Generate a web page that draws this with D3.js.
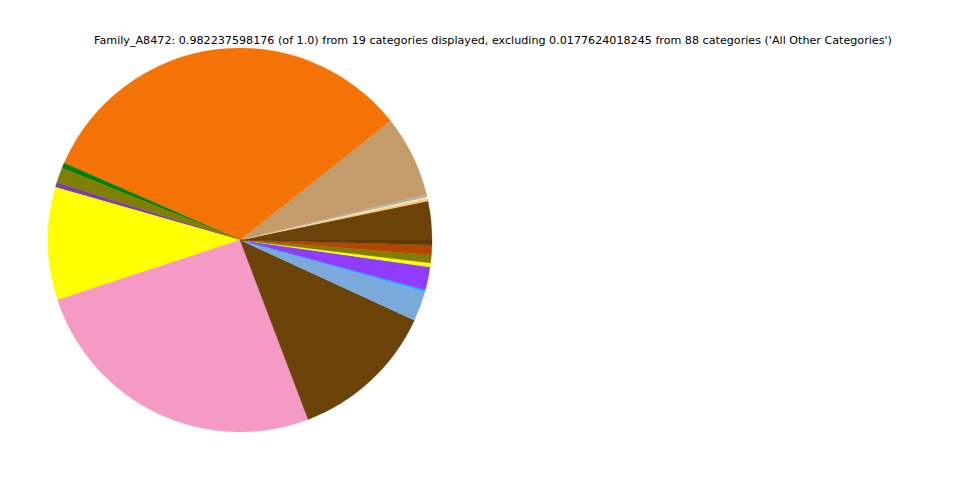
<!DOCTYPE html>
<html><head><meta charset="utf-8">
<script src="https://cdn.jsdelivr.net/npm/d3@7"></script>
<style>body{margin:0;background:#fff}svg{display:block}</style>
</head><body>
<svg id="c" width="960" height="480"></svg>
<script>
const categories = ["C01","C02","C03","C04","C05","C06","C07","C08","C09","C10","C11","C12","C13","C14","C15","C16","C17","C18","C19"];
const values = [0.0320,0.0022,0.0012,0.0022,0.0671,0.3219,0.0044,0.0125,0.0041,0.0930,0.2526,0.1214,0.0248,0.0014,0.0191,0.0033,0.0065,0.0082,0.0041];
const colors = ["#6b4309","#ffbf80","#ffff99","#b3b3b3","#c49c6c","#f47306","#007f00","#7f7f00","#7f3f9f","#ffff00","#f49ac4","#6b4309","#7aa9dc","#00bfff","#8f3cff","#ffff00","#7f7f00","#b34700","#5e3a07"];
const title = "Family_A8472: 0.982237598176 (of 1.0) from 19 categories displayed, excluding 0.0177624018245 from 88 categories ('All Other Categories')";

const svg = d3.select("#c");
const cx = 240, cy = 240, r = 192;
const pie = d3.pie().sort(null).value(d => d.v)
  .startAngle(Math.PI/2).endAngle(Math.PI/2 - 2*Math.PI);
const data = categories.map((c,i)=>({c, v: values[i], col: colors[i]}));
const arc = d3.arc().innerRadius(0).outerRadius(r);
svg.append("g").attr("transform", `translate(${cx},${cy})`)
  .selectAll("path").data(pie(data)).join("path")
  .attr("d", arc).attr("fill", d => d.data.col)
  .attr("stroke", d => d.data.col).attr("stroke-width", 0.3);
svg.append("text").attr("x", 493).attr("y", 44).attr("text-anchor","middle")
  .attr("font-family","DejaVu Sans").attr("font-size", 11.15).text(title);
</script>
</body></html>
